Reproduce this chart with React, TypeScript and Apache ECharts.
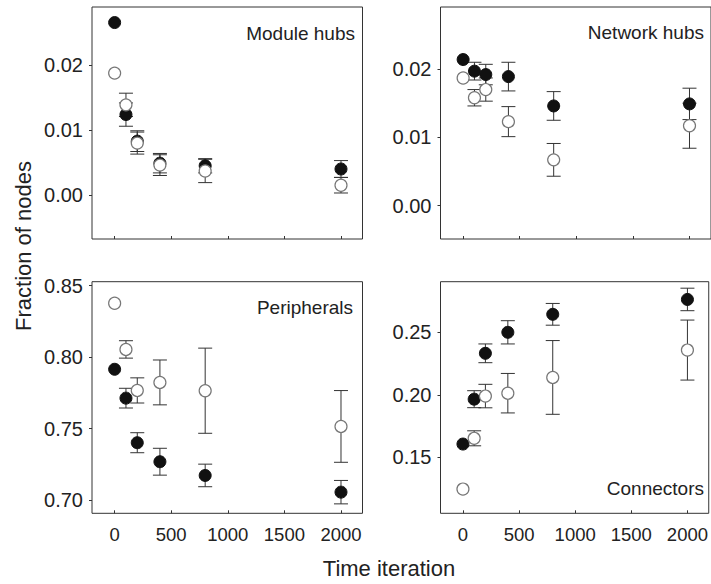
import React, { useEffect, useRef } from "react";
import * as echarts from "echarts";

const xValues = [0, 100, 200, 400, 800, 2000];
const xTicks = [0, 500, 1000, 1500, 2000];

const moduleBlack = [0.0266, 0.0124, 0.0083, 0.0049, 0.0045, 0.004];
const moduleBlackErr = [0, 0.0018, 0.0016, 0.0015, 0.0011, 0.0013];
const moduleWhite = [0.0188, 0.0139, 0.008, 0.0046, 0.0037, 0.0015];
const moduleWhiteErr = [0, 0.0018, 0.0017, 0.0016, 0.0018, 0.0012];

const networkBlack = [0.0214, 0.0197, 0.0192, 0.0189, 0.0146, 0.0149];
const networkBlackErr = [0, 0.0013, 0.0015, 0.0021, 0.0021, 0.0023];
const networkWhite = [0.0187, 0.0158, 0.017, 0.0123, 0.0067, 0.0117];
const networkWhiteErr = [0, 0.0012, 0.0017, 0.0022, 0.0024, 0.0033];

const periphBlack = [0.7915, 0.7713, 0.7401, 0.7268, 0.7172, 0.7055];
const periphBlackErr = [0, 0.0069, 0.007, 0.0094, 0.0079, 0.0082];
const periphWhite = [0.8377, 0.8054, 0.7767, 0.7823, 0.7765, 0.7515];
const periphWhiteErr = [0, 0.0061, 0.0088, 0.0157, 0.0298, 0.0251];

const connBlack = [0.1606, 0.1965, 0.2332, 0.25, 0.2644, 0.2763];
const connBlackErr = [0, 0.0068, 0.0075, 0.0093, 0.0087, 0.009];
const connWhite = [0.1246, 0.1652, 0.199, 0.2013, 0.2139, 0.2358];
const connWhiteErr = [0, 0.006, 0.0094, 0.0158, 0.0295, 0.024];

const topYTicks = [0, 0.01, 0.02];
const periphYTicks = [0.7, 0.75, 0.8, 0.85];
const connYTicks = [0.15, 0.2, 0.25];

const panelNames = ["Module hubs", "Network hubs", "Peripherals", "Connectors"];
const yTitle = "Fraction of nodes";
const xTitle = "Time iteration";

const FONT = "'Liberation Sans', Arial, sans-serif";
const INK = "#222";

export default function App() {
  const ref = useRef<HTMLDivElement>(null);
  useEffect(() => {
    document.body.style.margin = "0";
    const chart = echarts.init(ref.current!, null, { renderer: "svg" });

    const panels = [
      { black: moduleBlack, bErr: moduleBlackErr, white: moduleWhite, wErr: moduleWhiteErr, yMin: -0.0068, yMax: 0.029, yTicks: topYTicks, left: 92, top: 7, height: 232, showX: false },
      { black: networkBlack, bErr: networkBlackErr, white: networkWhite, wErr: networkWhiteErr, yMin: -0.0049, yMax: 0.0291, yTicks: topYTicks, left: 440.5, top: 7, height: 232, showX: false },
      { black: periphBlack, bErr: periphBlackErr, white: periphWhite, wErr: periphWhiteErr, yMin: 0.6907, yMax: 0.8528, yTicks: periphYTicks, left: 92, top: 281.7, height: 231.6, showX: true },
      { black: connBlack, bErr: connBlackErr, white: connWhite, wErr: connWhiteErr, yMin: 0.1052, yMax: 0.2905, yTicks: connYTicks, left: 440.5, top: 281.7, height: 231.6, showX: true },
    ];

    const errRender = (params: any, api: any) => {
      const x = api.value(0);
      const y = api.value(1);
      const e = api.value(2);
      if (!e) return null;
      const t = api.coord([x, y + e]);
      const b = api.coord([x, y - e]);
      const hw = 7;
      const style = { stroke: "#333", lineWidth: 1 };
      return {
        type: "group",
        children: [
          { type: "line", shape: { x1: t[0], y1: t[1], x2: b[0], y2: b[1] }, style },
          { type: "line", shape: { x1: t[0] - hw, y1: t[1], x2: t[0] + hw, y2: t[1] }, style },
          { type: "line", shape: { x1: b[0] - hw, y1: b[1], x2: b[0] + hw, y2: b[1] }, style },
        ],
      };
    };

    const grid: any[] = [];
    const xAxis: any[] = [];
    const yAxis: any[] = [];
    const series: any[] = [];

    panels.forEach((p, i) => {
      grid.push({
        left: p.left,
        top: p.top,
        width: 270.5,
        height: p.height,
        show: true,
        borderColor: "#333",
        borderWidth: 1,
        backgroundColor: "#fff",
      });
      xAxis.push({
        type: "value",
        gridIndex: i,
        min: -200,
        max: 2190,
        splitLine: { show: false },
        axisLine: { show: false, onZero: false },
        axisTick: { show: true, inside: true, length: 3, customValues: xTicks, lineStyle: { color: "#333" } },
        axisLabel: {
          show: p.showX,
          customValues: xTicks,
          formatter: (v: number) => String(v),
          margin: 12,
          fontSize: 18.5,
          fontFamily: FONT,
          color: INK,
        },
      });
      yAxis.push({
        type: "value",
        gridIndex: i,
        min: p.yMin,
        max: p.yMax,
        splitLine: { show: false },
        axisLine: { show: false, onZero: false },
        axisTick: { show: true, inside: false, length: 3, customValues: p.yTicks, lineStyle: { color: "#333" } },
        axisLabel: {
          customValues: p.yTicks,
          formatter: (v: number) => v.toFixed(2),
          margin: 9,
          fontSize: 20,
          fontFamily: FONT,
          color: INK,
        },
      });
      const bData = xValues.map((x, k) => [x, p.black[k], p.bErr[k]]);
      const wData = xValues.map((x, k) => [x, p.white[k], p.wErr[k]]);
      series.push({
        type: "custom",
        xAxisIndex: i,
        yAxisIndex: i,
        renderItem: errRender,
        encode: { x: 0, y: 1 },
        data: bData,
        z: 1,
        silent: true,
      });
      series.push({
        type: "custom",
        xAxisIndex: i,
        yAxisIndex: i,
        renderItem: errRender,
        encode: { x: 0, y: 1 },
        data: wData,
        z: 1,
        silent: true,
      });
      series.push({
        type: "scatter",
        xAxisIndex: i,
        yAxisIndex: i,
        data: bData.map((d) => [d[0], d[1]]),
        symbol: "circle",
        symbolSize: 12,
        itemStyle: { color: "#111", borderColor: "#111", borderWidth: 1, opacity: 1 },
        z: 3,
      });
      series.push({
        type: "scatter",
        xAxisIndex: i,
        yAxisIndex: i,
        data: wData.map((d) => [d[0], d[1]]),
        symbol: "circle",
        symbolSize: 12,
        itemStyle: { color: "#fff", borderColor: "#777", borderWidth: 1.2, opacity: 1 },
        z: 4,
      });
    });

    const labelStyle = { fontSize: 19, fontFamily: FONT, fill: INK, align: "right", verticalAlign: "middle" };

    chart.setOption({
      animation: false,
      backgroundColor: "#fff",
      grid,
      xAxis,
      yAxis,
      series,
      graphic: [
        { type: "text", x: 355, y: 33, style: { ...labelStyle, text: panelNames[0] }, z: 10 },
        { type: "text", x: 704, y: 32, style: { ...labelStyle, text: panelNames[1] }, z: 10 },
        { type: "text", x: 353, y: 307, style: { ...labelStyle, text: panelNames[2] }, z: 10 },
        { type: "text", x: 704, y: 488, style: { ...labelStyle, text: panelNames[3] }, z: 10 },
        {
          type: "text",
          x: 23,
          y: 246,
          rotation: Math.PI / 2,
          style: { text: yTitle, fontSize: 22, fontFamily: FONT, fill: INK, align: "center", verticalAlign: "middle" },
        },
        {
          type: "text",
          x: 389,
          y: 568,
          style: { text: xTitle, fontSize: 22, fontFamily: FONT, fill: INK, align: "center", verticalAlign: "middle" },
        },
      ],
    });
    return () => chart.dispose();
  }, []);
  return <div ref={ref} style={{ width: 711, height: 584 }} />;
}
